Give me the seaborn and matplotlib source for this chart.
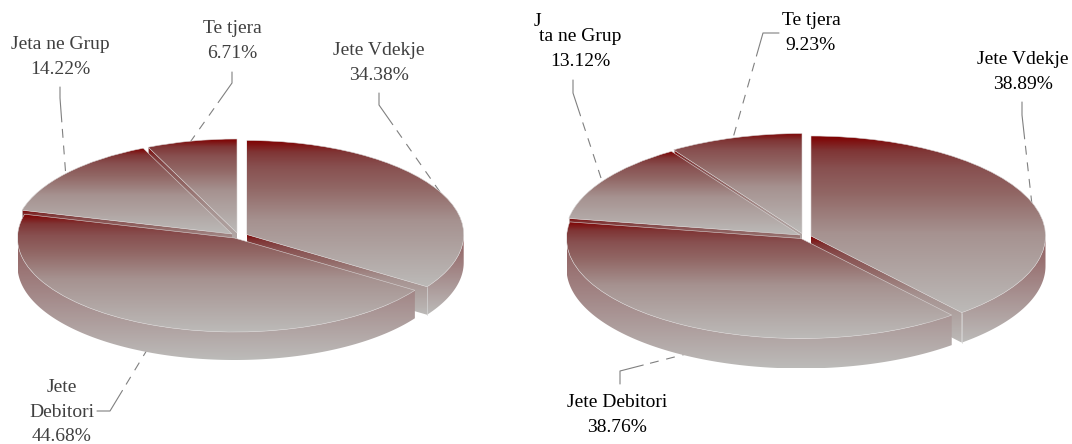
import numpy as np
import matplotlib
matplotlib.use('Agg')
import matplotlib.pyplot as plt
import seaborn as sns
from matplotlib.colors import LinearSegmentedColormap
from matplotlib.lines import Line2D
from matplotlib.patches import Polygon

#########################
#         Data          #
#########################
categories = ['Jete Vdekje', 'Jete Debitori', 'Jeta ne Grup', 'Te tjera']
values_left = [34.38, 44.68, 14.22, 6.71]
values_right = [38.89, 38.76, 13.12, 9.23]

#########################
#        Layout         #
#########################
W, H = 1072, 444

# pixel geometry of each pie: radii, depth, centre of every slice
pie_left = dict(rx=217, ry=94, depth=28, centres=[(246.7, 234.5), (234.5, 238), (232, 234), (237, 233)])
pie_right = dict(rx=234.5, ry=100, depth=30, centres=[(811, 236), (801, 238.5), (800, 235), (802, 233.5)])
draw_order = [3, 2, 0, 1]  # back to front

top_cmap = LinearSegmentedColormap.from_list(
    'top', [(0, '#7f0000'), (0.08, '#7f3535'), (0.18, '#885050'), (0.32, '#916664'), (0.55, '#a69290'), (1, '#bcbab8')])
rim_cmap = LinearSegmentedColormap.from_list('rim', sns.blend_palette(['#8f5c5c', '#a58c8c', '#bcbbb9'], 8))

sns.set_theme(style='white')
plt.rcParams['font.family'] = ['Liberation Serif', 'DejaVu Serif']

fig = plt.figure(figsize=(W / 100, H / 100), dpi=100, facecolor='white')


def fill_gradient(ax, patch, cmap, zorder):
    ext = patch.get_path().get_extents()
    grad = np.linspace(0, 1, 256).reshape(-1, 1)
    im = ax.imshow(grad, cmap=cmap, vmin=0, vmax=1, aspect='auto', origin='upper', zorder=zorder,
                   extent=(ext.x0, ext.x1, ext.y0, ext.y1), interpolation='bilinear')
    im.set_clip_path(patch)


def draw_pie(values, geo):
    rx, ry, depth = geo['rx'], geo['ry'], geo['depth']
    cx, cy = np.mean(geo['centres'], axis=0)
    # one data unit is rx wide and ry high, so ax.pie gives the squashed ellipse
    rect = [(cx - 1.25 * rx) / W, 1 - (cy + 1.25 * ry + 40) / H, 2.5 * rx / W, (2.5 * ry + 40) / H]
    ax = fig.add_axes(rect, facecolor='none')
    wedges, _ = ax.pie(values, startangle=90, counterclock=False, radius=1, normalize=True,
                       wedgeprops=dict(facecolor='none', edgecolor='#d8d4d4', linewidth=0.4))
    ax.axis('off')
    ylim = (-1.25 - 40 / ry, 1.25)
    d = depth / ry

    for rank, i in enumerate(draw_order):
        w = wedges[i]
        px, py = geo['centres'][i]
        x0, y0 = (px - cx) / rx, -(py - cy) / ry
        w.set_center((x0, y0))
        z = 10 * (rank + 1)

        # outer rim, only the part of the arc facing the viewer
        th = np.radians(np.linspace(w.theta1, w.theta2, 400))
        th = th[np.sin(th) < 0]
        if len(th) > 1:
            ax_pts = np.c_[x0 + np.cos(th), y0 + np.sin(th)]
            poly = np.vstack([ax_pts, (ax_pts - [0, d])[::-1]])
            rim = Polygon(poly, closed=True, facecolor='none', edgecolor='none', zorder=z)
            ax.add_patch(rim)
            fill_gradient(ax, rim, rim_cmap, z)

        # cut faces, skip the ones turned away from the viewer
        mid = np.radians((w.theta1 + w.theta2) / 2)
        for ang in (w.theta1, w.theta2):
            a = np.radians(ang)
            if abs(np.cos(a)) < 1e-6:
                continue
            if np.sin(mid) - np.tan(a) * np.cos(mid) <= 0:
                continue
            tip = np.array([x0 + np.cos(a), y0 + np.sin(a)])
            apex = np.array([x0, y0])
            face = Polygon([apex, tip, tip - [0, d], apex - [0, d]], closed=True,
                           facecolor='none', edgecolor='none', zorder=z + 1)
            ax.add_patch(face)
            fill_gradient(ax, face, top_cmap, z + 1)
            ax.plot([tip[0], tip[0]], [tip[1], tip[1] - d], color='#d4d4d4', lw=0.5, zorder=z + 1.5)

        fill_gradient(ax, w, top_cmap, z + 2)
        w.set_zorder(z + 3)

    ax.set_xlim(-1.25, 1.25)
    ax.set_ylim(*ylim)
    return ax


draw_pie(values_left, pie_left)
draw_pie(values_right, pie_right)


#########################
#   Labels and leaders  #
#########################
def label(x, y, text, color):
    fig.text(x / W, 1 - y / H, text, ha='center', va='center', fontsize=14, color=color, linespacing=1.55)


def leader(points):
    # elbow is solid, the run towards the pie is dashed
    p0, p1, p2 = [np.array(p, dtype=float) for p in points]
    unit = (p2 - p1) / np.linalg.norm(p2 - p1)
    solid = [p0, p1, p1 + unit * 24]
    dashed = [p1 + unit * 31, p2]
    for pts, style in ((solid, '-'), (dashed, (0, (8, 7)))):
        fig.add_artist(Line2D([p[0] / W for p in pts], [1 - p[1] / H for p in pts], transform=fig.transFigure,
                              color='#808080', lw=0.8, linestyle=style, zorder=-1))


left_col, right_col = '#404040', '#000000'
label(60, 57, f'{categories[2]}\n{values_left[2]:.2f}%', left_col)
label(232, 41, f'{categories[3]}\n{values_left[3]:.2f}%', left_col)
label(379, 63, f'{categories[0]}\n{values_left[0]:.2f}%', left_col)
label(62, 412, f'Jete\nDebitori\n{values_left[1]:.2f}%', left_col)

label(537, 21, 'J', right_col)
label(580, 49, f'ta ne Grup\n{values_right[2]:.2f}%', right_col)
label(811, 33, f'{categories[3]}\n{values_right[3]:.2f}%', right_col)
label(1023, 72, f'{categories[0]}\n{values_right[0]:.2f}%', right_col)
label(617, 415, f'{categories[1]}\n{values_right[1]:.2f}%', right_col)

leader([(60, 87), (60, 98), (66, 178)])
leader([(232, 72), (232, 83), (186, 148)])
leader([(379, 93), (379, 105), (440, 192)])
leader([(97, 411), (110, 411), (150, 345)])

leader([(573, 80), (573, 93), (601, 178)])
leader([(779, 33), (763, 33), (731, 145)])
leader([(1022, 102), (1022, 115), (1032, 205)])
leader([(620, 384), (620, 371), (690, 353)])

plt.savefig('out.png', dpi=100)
